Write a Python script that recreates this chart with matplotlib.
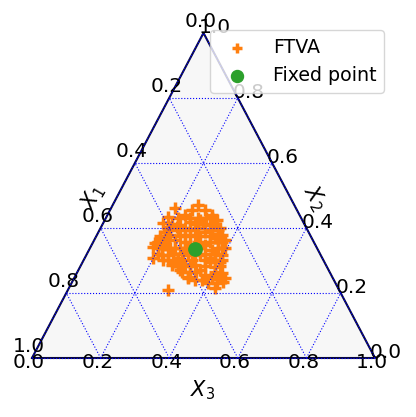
import numpy as np
from matplotlib import pyplot as plt

# barycentric coords (X1 = 1 - X2 - X3)
ftva_x2 = [0.471, 0.455, 0.455, 0.440, 0.425, 0.440, 0.431, 0.403, 0.403, 0.388,
           0.363, 0.338, 0.317, 0.302, 0.286, 0.271, 0.249, 0.240, 0.240, 0.231,
           0.231, 0.246, 0.262, 0.280, 0.295, 0.317, 0.338, 0.357, 0.378, 0.400,
           0.209, 0.215, 0.409, 0.418, 0.425, 0.409, 0.378, 0.378, 0.388, 0.369,
           0.363, 0.338, 0.338, 0.348, 0.348, 0.332, 0.317, 0.308, 0.317, 0.317,
           0.308, 0.295, 0.286, 0.286, 0.271, 0.265, 0.295, 0.338, 0.400, 0.400,
           0.378, 0.348, 0.255, 0.255,
           0.431, 0.431, 0.431, 0.431, 0.412, 0.412, 0.412, 0.412,
           0.394, 0.394, 0.394, 0.394, 0.394,
           0.375, 0.375, 0.375, 0.375, 0.375, 0.375, 0.375,
           0.357, 0.357, 0.357, 0.357, 0.357, 0.357,
           0.338, 0.338, 0.338, 0.338, 0.338,
           0.320, 0.320, 0.320, 0.320, 0.320, 0.320,
           0.302, 0.302, 0.302, 0.302, 0.302, 0.302,
           0.283, 0.283, 0.283, 0.283, 0.265, 0.265, 0.265,
           0.246, 0.246, 0.246,
           0.342, 0.354, 0.434, 0.363, 0.234, 0.308, 0.462, 0.415]
ftva_x3 = [0.248, 0.277, 0.239, 0.305, 0.327, 0.226, 0.210, 0.221, 0.201, 0.194,
           0.200, 0.198, 0.220, 0.231, 0.265, 0.296, 0.330, 0.355, 0.376, 0.398,
           0.424, 0.440, 0.423, 0.394, 0.401, 0.396, 0.394, 0.376, 0.365, 0.348,
           0.292, 0.426, 0.227, 0.252, 0.277, 0.314, 0.257, 0.286, 0.310, 0.349,
           0.235, 0.233, 0.262, 0.287, 0.330, 0.359, 0.238, 0.272, 0.296, 0.331,
           0.365, 0.269, 0.303, 0.332, 0.354, 0.328, 0.371, 0.373, 0.246, 0.284,
           0.213, 0.214, 0.376, 0.406,
           0.246, 0.269, 0.292, 0.310, 0.202, 0.269, 0.293, 0.328,
           0.200, 0.229, 0.264, 0.328, 0.345,
           0.185, 0.209, 0.243, 0.273, 0.302, 0.331, 0.360,
           0.188, 0.209, 0.267, 0.305, 0.340, 0.363,
           0.210, 0.248, 0.277, 0.321, 0.385,
           0.207, 0.251, 0.280, 0.315, 0.344, 0.374,
           0.246, 0.286, 0.315, 0.353, 0.383, 0.403,
           0.284, 0.319, 0.362, 0.406, 0.305, 0.346, 0.402,
           0.332, 0.402, 0.425,
           0.182, 0.182, 0.180, 0.381, 0.440, 0.199, 0.186, 0.174]
fixed_x2 = [0.335]
fixed_x3 = [0.308]

ticks = [0.0, 0.2, 0.4, 0.6, 0.8, 1.0]
h = np.sqrt(3) / 2

def to_xy(x2, x3):
    x2 = np.asarray(x2, dtype=float)
    x3 = np.asarray(x3, dtype=float)
    return x3 + x2 / 2, x2 * h

fig = plt.figure(figsize=(4.16, 4.17), dpi=100)
ax = fig.add_axes([0, 0, 1, 1])
ax.set_xlim(-32 / 343, 384 / 343)
ax.set_ylim(-59 / 375.3, 358 / 375.3)
ax.axis('off')

# background and boundary
ax.fill([0, 1, 0.5], [0, 0, h], color='#f7f7f7', zorder=0)
ax.plot([0, 1, 0.5, 0], [0, 0, h, 0], color='#0a0a3c', lw=1.5, zorder=1)

# gridlines (drawn over the points, as in the reference)
for v in ticks:
    kw = dict(color='blue', ls=':', lw=0.8, zorder=5)
    ax.plot(*to_xy([v, v], [0, 1 - v]), **kw)
    ax.plot(*to_xy([0, 1 - v], [v, v]), **kw)
    ax.plot(*to_xy([0, 1 - v], [1 - v, 0]), **kw)

# tick labels
fs = 14.5
for v in ticks:
    lab = f'{v:.1f}'
    ax.annotate(lab, to_xy(0, v), xytext=(-3, -5), textcoords='offset pixels',
                ha='center', va='center', fontsize=fs)
    ax.annotate(lab, to_xy(1 - v, 0), xytext=(-3, 11), textcoords='offset pixels',
                ha='center', va='center', fontsize=fs)
    ax.annotate(lab, to_xy(v, 1 - v), xytext=(11, 5), textcoords='offset pixels',
                ha='center', va='center', fontsize=fs)

ax.text(0.178, 0.429, '$X_1$', rotation=60, ha='center', va='center', fontsize=15)
ax.text(0.825, 0.426, '$X_2$', rotation=-60, ha='center', va='center', fontsize=15)
ax.text(0.496, -0.085, '$X_3$', ha='center', va='center', fontsize=15)

ax.scatter(*to_xy(ftva_x2, ftva_x3), marker='+', s=75, linewidths=2.5,
           color='tab:orange', label='FTVA', zorder=3)
ax.scatter(*to_xy(fixed_x2, fixed_x3), marker='o', s=92,
           color='tab:green', label='Fixed point', zorder=6)

ax.legend(loc='upper right', bbox_to_anchor=(384 / 416, 1 - 30 / 417),
          bbox_transform=fig.transFigure, borderaxespad=0, fontsize=13.7,
          handletextpad=0.9, markerscale=0.9)

fig.savefig('out.png', dpi=100)
